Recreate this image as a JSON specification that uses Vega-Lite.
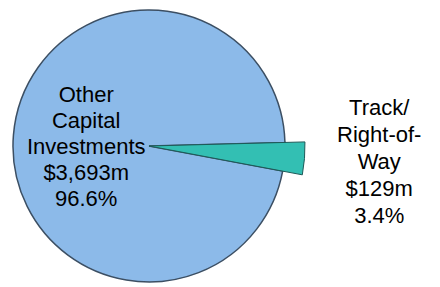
{
  "$schema": "https://vega.github.io/schema/vega-lite/v6.json",
  "width": 272,
  "height": 272,
  "autosize": {"type": "none"},
  "padding": {"left": 13, "top": 10, "right": 155, "bottom": 5},
  "background": "white",
  "view": {"stroke": null},
  "data": {
    "values": [
      {"category": "Track/Right-of-Way", "value": 129, "label": "Track/\nRight-of-\nWay\n$129m\n3.4%"},
      {"category": "Other Capital Investments", "value": 3693, "label": "Other\nCapital\nInvestments\n$3,693m\n96.6%"}
    ]
  },
  "encoding": {
    "theta": {"field": "value", "type": "quantitative", "stack": true, "scale": {"domain": [0, 3822], "range": [1.5446, 7.8278]}},
    "order": {"field": "category", "sort": "descending"}
  },
  "layer": [
    {
      "mark": {"type": "arc", "radius": 136, "fill": "#8CBAE9", "stroke": "#3c4f63", "strokeWidth": 1.5}
    },
    {
      "mark": {"type": "arc", "radius": 156, "fill": "#33BFB3", "stroke": "#1d5a58", "strokeWidth": 1},
      "encoding": {
        "opacity": {"condition": {"test": "datum.category === 'Track/Right-of-Way'", "value": 1}, "value": 0}
      }
    },
    {
      "mark": {"type": "text", "radius": 63, "dy": -46, "font": "Liberation Sans", "fontSize": 22, "lineHeight": 26, "lineBreak": "\n", "color": "#000000", "align": "center", "baseline": "middle"},
      "encoding": {
        "text": {"condition": {"test": "datum.category === 'Other Capital Investments'", "field": "label"}, "value": ""}
      }
    },
    {
      "mark": {"type": "text", "radius": 231, "dy": -56, "font": "Liberation Sans", "fontSize": 22, "lineHeight": 27, "lineBreak": "\n", "color": "#000000", "align": "center", "baseline": "middle"},
      "encoding": {
        "text": {"condition": {"test": "datum.category === 'Track/Right-of-Way'", "field": "label"}, "value": ""}
      }
    }
  ]
}
